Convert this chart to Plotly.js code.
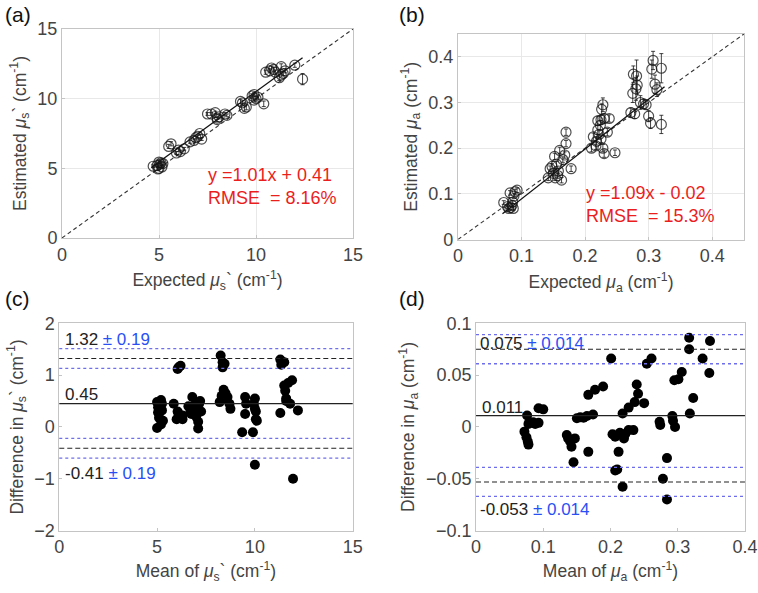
<!DOCTYPE html>
<html>
<head>
<meta charset="utf-8">
<script src="https://cdn.plot.ly/plotly-3.0.1.min.js"></script>
<style>
  body { margin: 0; background: #fff; }
  #chart { width: 758px; height: 593px; }
</style>
</head>
<body>
<div id="chart"></div>
<script>
// (a) reduced scattering: expected vs estimated
var aExp = [4.7, 4.9, 5.0, 5.05, 5.1, 5.2, 5.0, 5.15, 4.95, 5.5, 5.62, 5.9, 6.1, 6.3, 6.0,
  6.6, 6.8, 7.0, 7.1, 6.9, 7.2, 7.5, 7.7, 7.9, 8.0, 8.1, 8.0, 8.4, 8.5,
  9.2, 9.3, 9.4, 9.5, 9.8, 9.9, 10.0, 10.1, 9.9, 10.4,
  10.5, 10.7, 10.8, 10.9, 11.0, 11.2, 11.3, 11.4, 11.5, 11.3, 12.0, 12.4];
var aEst = [5.15, 5.2, 5.0, 5.3, 5.4, 5.35, 5.45, 5.1, 4.95, 6.57, 6.76, 6.1, 6.2, 6.4, 6.3,
  6.9, 7.0, 7.3, 7.5, 7.2, 7.1, 8.9, 8.9, 9.0, 8.5, 8.7, 8.6, 8.9, 8.8,
  9.8, 9.7, 9.3, 9.4, 10.2, 10.3, 10.0, 10.1, 9.9, 9.63,
  11.9, 12.0, 12.2, 12.1, 11.9, 11.5, 12.3, 11.8, 12.0, 11.7, 12.4, 11.4];
var aErr = [0.1, 0.1, 0.1, 0.1, 0.1, 0.1, 0.1, 0.1, 0.1, 0.15, 0.15, 0.1, 0.1, 0.1, 0.1,
  0.1, 0.1, 0.1, 0.1, 0.1, 0.1, 0.1, 0.1, 0.1, 0.15, 0.15, 0.1, 0.1, 0.1,
  0.15, 0.15, 0.2, 0.2, 0.15, 0.15, 0.15, 0.15, 0.15, 0.2,
  0.15, 0.15, 0.15, 0.15, 0.15, 0.2, 0.2, 0.15, 0.15, 0.15, 0.15, 0.4];
var aFit = { slope: 1.01, intercept: 0.41, from: 4.6, to: 12.4 };

// (b) absorption: expected vs estimated
var bExp = [0.072, 0.078, 0.080, 0.083, 0.085, 0.087, 0.082, 0.088, 0.090, 0.093, 0.086,
  0.142, 0.145, 0.148, 0.150, 0.152, 0.155, 0.157, 0.160, 0.163, 0.165, 0.168, 0.170, 0.170, 0.178, 0.153, 0.158,
  0.210, 0.213, 0.217, 0.218, 0.220, 0.220, 0.222, 0.224, 0.225, 0.226, 0.228, 0.228, 0.230, 0.230, 0.235, 0.238, 0.247, 0.225,
  0.272, 0.275, 0.276, 0.278, 0.280, 0.281, 0.282, 0.287, 0.292, 0.296, 0.300, 0.303, 0.305, 0.307, 0.310, 0.313, 0.320, 0.320];
var bEst = [0.081, 0.072, 0.068, 0.070, 0.075, 0.068, 0.102, 0.095, 0.105, 0.108, 0.082,
  0.135, 0.155, 0.160, 0.145, 0.182, 0.165, 0.140, 0.195, 0.130, 0.175, 0.185, 0.210, 0.235, 0.155, 0.135, 0.150,
  0.200, 0.225, 0.205, 0.215, 0.240, 0.260, 0.230, 0.250, 0.220, 0.285, 0.295, 0.200, 0.188, 0.265, 0.235, 0.265, 0.190, 0.262,
  0.278, 0.320, 0.362, 0.275, 0.330, 0.358, 0.338, 0.300, 0.297, 0.295, 0.270, 0.255, 0.373, 0.392, 0.340, 0.328, 0.375, 0.252];
var bErr = [0.004, 0.004, 0.004, 0.004, 0.004, 0.004, 0.005, 0.005, 0.005, 0.005, 0.004,
  0.006, 0.006, 0.006, 0.006, 0.007, 0.006, 0.006, 0.007, 0.006, 0.006, 0.007, 0.007, 0.007, 0.006, 0.006, 0.006,
  0.008, 0.008, 0.008, 0.008, 0.010, 0.010, 0.008, 0.010, 0.008, 0.012, 0.015, 0.008, 0.008, 0.010, 0.008, 0.008, 0.006, 0.010,
  0.010, 0.020, 0.018, 0.010, 0.025, 0.035, 0.020, 0.015, 0.010, 0.010, 0.012, 0.012, 0.020, 0.020, 0.020, 0.015, 0.032, 0.020];
var bFit = { slope: 1.09, intercept: -0.02, from: 0.07, to: 0.325 };

// (c) Bland-Altman for mu_s'
var cMean = [5.0, 5.05, 5.1, 5.0, 5.2, 5.15, 5.2, 5.25, 5.3, 5.05, 5.25,
  5.85, 6.05, 6.1, 6.2, 6.0, 6.1, 6.2, 6.3, 6.05, 6.3, 6.15,
  6.6, 6.7, 6.8, 6.9, 7.0, 7.05, 7.1, 7.1, 7.2, 7.15, 6.75, 7.25,
  8.25, 8.35, 8.45, 8.35, 8.2, 8.3, 8.4, 8.5, 8.6, 8.7, 8.75, 8.4,
  9.35, 9.5, 9.55, 9.5, 9.9, 10.0, 10.0, 10.0, 10.05, 9.95, 10.05, 10.1,
  11.3, 11.35, 11.5, 11.3, 11.5, 11.55, 11.6, 11.7, 11.8, 11.9, 11.95, 12.2, 11.6];
var cDiff = [0.48, 0.28, 0.18, -0.02, 0.52, 0.4, 0.05, 0.32, 0.12, 0.38, 0.45,
  0.45, 1.12, 1.15, 1.18, 0.15, 0.25, 0.2, 0.22, 0.3, 0.15, 0.2,
  0.4, 0.3, 0.58, 0.42, 0.2, 0.35, 0.1, -0.03, 0.5, 0.45, 0.25, 0.3,
  1.38, 1.25, 1.22, 1.15, 0.48, 0.6, 0.72, 0.65, 0.58, 0.45, 0.35, 0.55,
  -0.1, 0.58, 0.45, 0.25, -0.1, -0.73, 0.55, 0.35, 0.15, 0.45, 0.3, 0.12,
  1.3, 1.2, 1.25, 0.27, 0.8, 0.7, 0.55, 0.85, 0.45, 0.9, -1.0, 0.32, 0.5];
var cBias = 0.45, cUpper = 1.32, cLower = -0.41, cCI = 0.19;

// (d) Bland-Altman for mu_a
var dMean = [0.072, 0.075, 0.077, 0.078, 0.076, 0.078, 0.085, 0.093, 0.093, 0.100, 0.088,
  0.135, 0.137, 0.140, 0.142, 0.145, 0.147, 0.150, 0.155, 0.160, 0.165, 0.167, 0.167, 0.174, 0.177, 0.189,
  0.201, 0.203, 0.207, 0.207, 0.210, 0.212, 0.214, 0.218, 0.218, 0.220, 0.222, 0.227, 0.227, 0.234, 0.236, 0.239, 0.241, 0.250, 0.254, 0.261,
  0.273, 0.274, 0.278, 0.284, 0.284, 0.292, 0.293, 0.296, 0.295, 0.301, 0.306, 0.317, 0.317, 0.318, 0.323, 0.337, 0.348, 0.347];
var dDiff = [-0.0045, -0.010, -0.014, -0.017, 0.011, 0.003, 0.0045, 0.004, 0.018, 0.017, 0.003,
  -0.0077, -0.011, -0.014, -0.019, -0.034, -0.011, 0.0084, 0.0093, 0.009, 0.0106, 0.031, -0.024, 0.012, 0.036, 0.039,
  0.066, -0.007, -0.0093, -0.042, -0.041, -0.024, -0.0055, 0.013, -0.0576, -0.011, -0.0068, 0.0187, -0.003, -0.003, 0.024, 0.041, 0.032, 0.023, 0.061, 0.066,
  0.005, 0.002, -0.050, -0.030, -0.070, 0.0106, 0.006, 0.0, 0.045, 0.046, 0.053, 0.086, 0.075, 0.013, 0.028, 0.066, 0.083, 0.052];
var dBias = 0.011, dUpper = 0.075, dLower = -0.053, dCI = 0.014;

var FONT = 'Liberation Sans, Arial, Helvetica, sans-serif';
var RED = 'rgb(235,30,30)';
var BLUE = 'rgb(40,80,245)';
var DOT = 'rgb(110,110,235)';
var GREY = '#444';

function fitLine(f, xa, ya) {
  return {
    x: [f.from, f.to], y: [f.slope * f.from + f.intercept, f.slope * f.to + f.intercept],
    xaxis: xa, yaxis: ya, mode: 'lines', line: { color: '#111', width: 1.3 }, hoverinfo: 'skip'
  };
}
function identity(max, xa, ya) {
  return { x: [0, max], y: [0, max], xaxis: xa, yaxis: ya, mode: 'lines',
    line: { color: '#333', width: 1.1, dash: '4px,3px' }, hoverinfo: 'skip' };
}
function circles(x, y, err, xa, ya) {
  return {
    x: x, y: y, xaxis: xa, yaxis: ya, mode: 'markers', type: 'scatter',
    marker: { symbol: 'circle-open', size: 10, color: 'rgba(20,20,20,0.75)', line: { width: 1.2 } },
    error_y: { type: 'data', array: err, visible: true, color: 'rgba(20,20,20,0.8)', thickness: 1, width: 2 }
  };
}
function dots(x, y, xa, ya) {
  return { x: x, y: y, xaxis: xa, yaxis: ya, mode: 'markers', type: 'scatter',
    marker: { size: 10, color: '#000' } };
}

var data = [
  identity(15, 'x', 'y'), fitLine(aFit, 'x', 'y'), circles(aExp, aEst, aErr, 'x', 'y'),
  identity(0.45, 'x2', 'y2'), fitLine(bFit, 'x2', 'y2'), circles(bExp, bEst, bErr, 'x2', 'y2'),
  dots(cMean, cDiff, 'x3', 'y3'),
  dots(dMean, dDiff, 'x4', 'y4')
];

function axis(domain, range, dtick, grid, anchor, title, standoff) {
  return {
    domain: domain, range: range, dtick: dtick, tick0: 0, anchor: anchor,
    showgrid: grid, gridcolor: '#e8e8e8', zeroline: false,
    showline: true, mirror: true, linecolor: '#c4c4c4', linewidth: 1,
    ticks: 'inside', ticklen: 3, tickcolor: '#c4c4c4',
    tickfont: { size: 18, color: GREY, family: FONT },
    title: { text: title, font: { size: 17.5, color: GREY, family: FONT }, standoff: standoff }
  };
}

function hline(v, xa, ya, color, dash, w) {
  return { type: 'line', xref: xa + ' domain', yref: ya, x0: 0, x1: 1, y0: v, y1: v,
    line: { color: color, dash: dash, width: w } };
}

var shapes = [
  hline(cBias, 'x3', 'y3', '#222', 'solid', 1.2),
  hline(cUpper, 'x3', 'y3', '#222', '5px,3px', 1.1),
  hline(cLower, 'x3', 'y3', '#222', '5px,3px', 1.1),
  hline(cUpper + cCI, 'x3', 'y3', DOT, 'dot', 1.3),
  hline(cUpper - cCI, 'x3', 'y3', DOT, 'dot', 1.3),
  hline(cLower + cCI, 'x3', 'y3', DOT, 'dot', 1.3),
  hline(cLower - cCI, 'x3', 'y3', DOT, 'dot', 1.3),
  hline(dBias, 'x4', 'y4', '#222', 'solid', 1.2),
  hline(dUpper, 'x4', 'y4', '#222', '5px,3px', 1.1),
  hline(dLower, 'x4', 'y4', '#222', '5px,3px', 1.1),
  hline(dUpper + dCI, 'x4', 'y4', DOT, 'dot', 1.3),
  hline(dUpper - dCI, 'x4', 'y4', DOT, 'dot', 1.3),
  hline(dLower + dCI, 'x4', 'y4', DOT, 'dot', 1.3),
  hline(dLower - dCI, 'x4', 'y4', DOT, 'dot', 1.3)
];

function note(text, x, y, xa, ya, color, size) {
  return { text: text, x: x, y: y, xref: xa, yref: ya, xanchor: 'left', yanchor: 'middle',
    align: 'left', showarrow: false, font: { size: size || 17, color: color || '#222', family: FONT } };
}
function pm(v, ci) {
  return v + ' <span style="color:' + BLUE + '">± ' + ci + '</span>';
}

var annotations = [
  note('(a)', 0.004, 0.975, 'paper', 'paper', '#111', 21),
  note('(b)', 0.524, 0.975, 'paper', 'paper', '#111', 21),
  note('(c)', 0.004, 0.497, 'paper', 'paper', '#111', 21),
  note('(d)', 0.524, 0.497, 'paper', 'paper', '#111', 21),
  note('y =' + aFit.slope + 'x + ' + aFit.intercept + '<br>RMSE  = 8.16%', 7.4, 3.66, 'x', 'y', RED, 18),
  note('y =' + bFit.slope + 'x - ' + Math.abs(bFit.intercept) + '<br>RMSE  = 15.3%', 0.198, 0.0777, 'x2', 'y2', RED, 18),
  note(pm(cUpper, cCI), 0.2, 1.68, 'x3', 'y3'),
  note(String(cBias), 0.2, 0.62, 'x3', 'y3'),
  note(pm(cLower, cCI), 0.2, -0.9, 'x3', 'y3'),
  note(pm(dUpper, dCI), 0.003, 0.081, 'x4', 'y4'),
  note(String(dBias), 0.006, 0.019, 'x4', 'y4'),
  note(pm(dLower, dCI), 0.003, -0.080, 'x4', 'y4')
];

var musT = '<i>μ</i><sub>s</sub>`';
var muaT = '<i>μ</i><sub>a</sub>';
var cm = ' (cm<sup>-1</sup>)';

var layout = {
  width: 758, height: 593,
  margin: { l: 0, r: 0, t: 0, b: 0 },
  paper_bgcolor: '#fff', plot_bgcolor: '#fff',
  showlegend: false,
  font: { family: FONT },
  xaxis: axis([0.0818, 0.4657], [0, 15], 5, true, 'y', 'Expected ' + musT + cm, 10),
  yaxis: axis([0.5987, 0.9511], [0, 15], 5, true, 'x', 'Estimated ' + musT + cm, 6),
  xaxis2: axis([0.6042, 0.9815], [0, 0.45], 0.1, true, 'y2', 'Expected ' + muaT + cm, 10),
  yaxis2: axis([0.5961, 0.9427], [0, 0.45], 0.1, true, 'x2', 'Estimated ' + muaT + cm, 6),
  xaxis3: axis([0.0782, 0.4653], [0, 15], 5, false, 'y3', 'Mean of ' + musT + cm, 8),
  yaxis3: axis([0.1051, 0.4548], [-2, 2], 1, false, 'x3', 'Difference in ' + musT + cm, 6),
  xaxis4: axis([0.628, 0.9828], [0, 0.4], 0.1, false, 'y4', 'Mean of ' + muaT + cm, 8),
  yaxis4: axis([0.1051, 0.4548], [-0.1, 0.1], 0.05, false, 'x4', 'Difference in ' + muaT + cm, 6),
  shapes: shapes,
  annotations: annotations
};

Plotly.newPlot('chart', data, layout, { displayModeBar: false, staticPlot: true });
</script>
</body>
</html>
